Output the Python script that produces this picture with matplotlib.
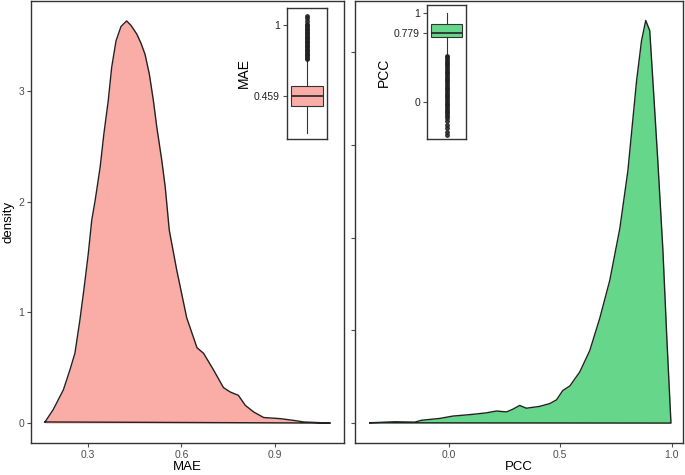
import matplotlib
matplotlib.use('Agg')
import matplotlib.pyplot as plt

plt.rcParams['font.family'] = ['Liberation Sans', 'DejaVu Sans']

# density curve of MAE
mae_x = [0.162, 0.188, 0.221, 0.242, 0.258, 0.274, 0.288, 0.301, 0.312, 0.323,
         0.339, 0.351, 0.365, 0.376, 0.390, 0.406, 0.424, 0.438, 0.457, 0.470,
         0.483, 0.497, 0.510, 0.521, 0.537, 0.548, 0.561, 0.585, 0.617, 0.650,
         0.671, 0.703, 0.735, 0.757, 0.783, 0.805, 0.832, 0.864, 0.917, 0.971,
         0.991, 1.078]
mae_y = [0.01, 0.12, 0.30, 0.48, 0.63, 0.93, 1.23, 1.53, 1.83, 2.01,
         2.31, 2.61, 2.91, 3.21, 3.45, 3.58, 3.63, 3.59, 3.51, 3.43,
         3.33, 3.15, 2.91, 2.67, 2.37, 2.13, 1.74, 1.38, 0.95, 0.68,
         0.63, 0.48, 0.32, 0.28, 0.25, 0.16, 0.10, 0.05, 0.04, 0.02,
         0.01, 0.0]

# density curve of PCC
pcc_x = [-0.354, -0.242, -0.152, -0.122, -0.040, 0.018, 0.108, 0.169, 0.214, 0.259,
         0.288, 0.318, 0.348, 0.408, 0.453, 0.483, 0.511, 0.543, 0.587, 0.632,
         0.677, 0.722, 0.767, 0.803, 0.842, 0.864, 0.883, 0.901, 0.915, 0.937,
         0.960, 0.978, 0.991, 0.996]
pcc_y = [0.003, 0.014, 0.01, 0.03, 0.05, 0.075, 0.094, 0.11, 0.13, 0.12,
         0.15, 0.19, 0.16, 0.18, 0.21, 0.25, 0.35, 0.40, 0.55, 0.78,
         1.13, 1.54, 2.10, 2.72, 3.69, 4.12, 4.34, 4.23, 3.69, 2.83,
         1.86, 0.89, 0.25, 0.0]

# boxplot summaries
mae_box = dict(med=0.459, q1=0.383, q3=0.535, whislo=0.177, whishi=0.73,
               fliers=[0.74, 0.75, 0.76, 0.77, 0.78, 0.79, 0.80, 0.81, 0.82, 0.83,
                       0.84, 0.85, 0.86, 0.87, 0.88, 0.89, 0.90, 0.91, 0.92, 0.93,
                       0.94, 0.95, 0.96, 0.97, 0.98, 0.99, 1.00, 1.01, 1.03, 1.05,
                       1.07])
pcc_box = dict(med=0.779, q1=0.73, q3=0.88, whislo=0.53, whishi=1.0,
               fliers=[0.52, 0.50, 0.48, 0.46, 0.44, 0.42, 0.40, 0.38, 0.36, 0.34,
                       0.32, 0.30, 0.28, 0.26, 0.24, 0.22, 0.20, 0.18, 0.16, 0.14,
                       0.12, 0.10, 0.08, 0.06, 0.04, 0.02, 0.0, -0.02, -0.04, -0.06,
                       -0.08, -0.10, -0.12, -0.14, -0.16, -0.18, -0.22, -0.26, -0.30,
                       -0.34, -0.37])

pink = '#F9ADA6'
green = '#66D68A'
tick_col = '#4D4D4D'

fig = plt.figure(figsize=(6.85, 4.75), dpi=100)
W, H = 685.0, 475.0


def frame(ax):
    for s in ax.spines.values():
        s.set_color('#333333')
        s.set_linewidth(1.0)
    ax.tick_params(length=3, width=0.8, color=tick_col, labelcolor=tick_col, labelsize=7.5, pad=2)


ax1 = fig.add_axes([31 / W, 1 - 443 / H, (344 - 31) / W, 442 / H])
ax1.fill_between(mae_x, mae_y, 0, color=pink, lw=0)
ax1.plot(mae_x + [mae_x[0]], mae_y + [mae_y[0]], color='#222222', lw=1.0)
ax1.set_xlim(0.117, 1.122)
ax1.set_ylim(-0.18, 3.81)
ax1.set_xticks([0.3, 0.6, 0.9])
ax1.set_yticks([0, 1, 2, 3])
ax1.set_xlabel('MAE', fontsize=9.5, labelpad=1)
ax1.set_ylabel('density', fontsize=9.5, labelpad=3)
frame(ax1)

ax2 = fig.add_axes([355 / W, 1 - 443 / H, (683 - 355) / W, 442 / H])
ax2.fill_between(pcc_x, pcc_y, 0, color=green, lw=0)
ax2.plot(pcc_x + [pcc_x[0]], pcc_y + [pcc_y[0]], color='#222222', lw=1.0)
ax2.set_xlim(-0.42, 1.05)
ax2.set_ylim(-0.215, 4.55)
ax2.set_xticks([0.0, 0.5, 1.0])
ax2.set_xticklabels(['0.0', '0.5', '1.0'])
ax2.set_yticks([0, 1, 2, 3, 4])
ax2.set_yticklabels([])
ax2.set_xlabel('PCC', fontsize=9.5, labelpad=1)
frame(ax2)


def inset(rect, stats, color, lim, ticks, labels, name):
    ax = fig.add_axes(rect)
    ax.bxp([stats], widths=0.8, patch_artist=True, showcaps=False,
           boxprops=dict(facecolor=color, edgecolor='#333333', lw=0.8),
           medianprops=dict(color='#222222', lw=1.2),
           whiskerprops=dict(color='#333333', lw=0.8),
           flierprops=dict(marker='o', markersize=2.5, markerfacecolor='#222222',
                           markeredgecolor='#222222', alpha=0.85))
    ax.set_xlim(0.5, 1.5)
    ax.set_ylim(*lim)
    ax.set_xticks([])
    ax.set_yticks(ticks)
    ax.set_yticklabels(labels)
    ax.set_ylabel(name, fontsize=10, labelpad=2)
    frame(ax)
    ax.tick_params(labelcolor='#222222', labelsize=7.5)
    return ax


inset([287 / W, 1 - 139 / H, 40 / W, 131 / H], mae_box, pink,
      (0.13, 1.13), [0.459, 1], ['0.459', '1'], 'MAE')
inset([427 / W, 1 - 139 / H, 39 / W, 134 / H], pcc_box, green,
      (-0.42, 1.09), [0, 0.779, 1], ['0', '0.779', '1'], 'PCC')

plt.savefig('out.png', dpi=100)
